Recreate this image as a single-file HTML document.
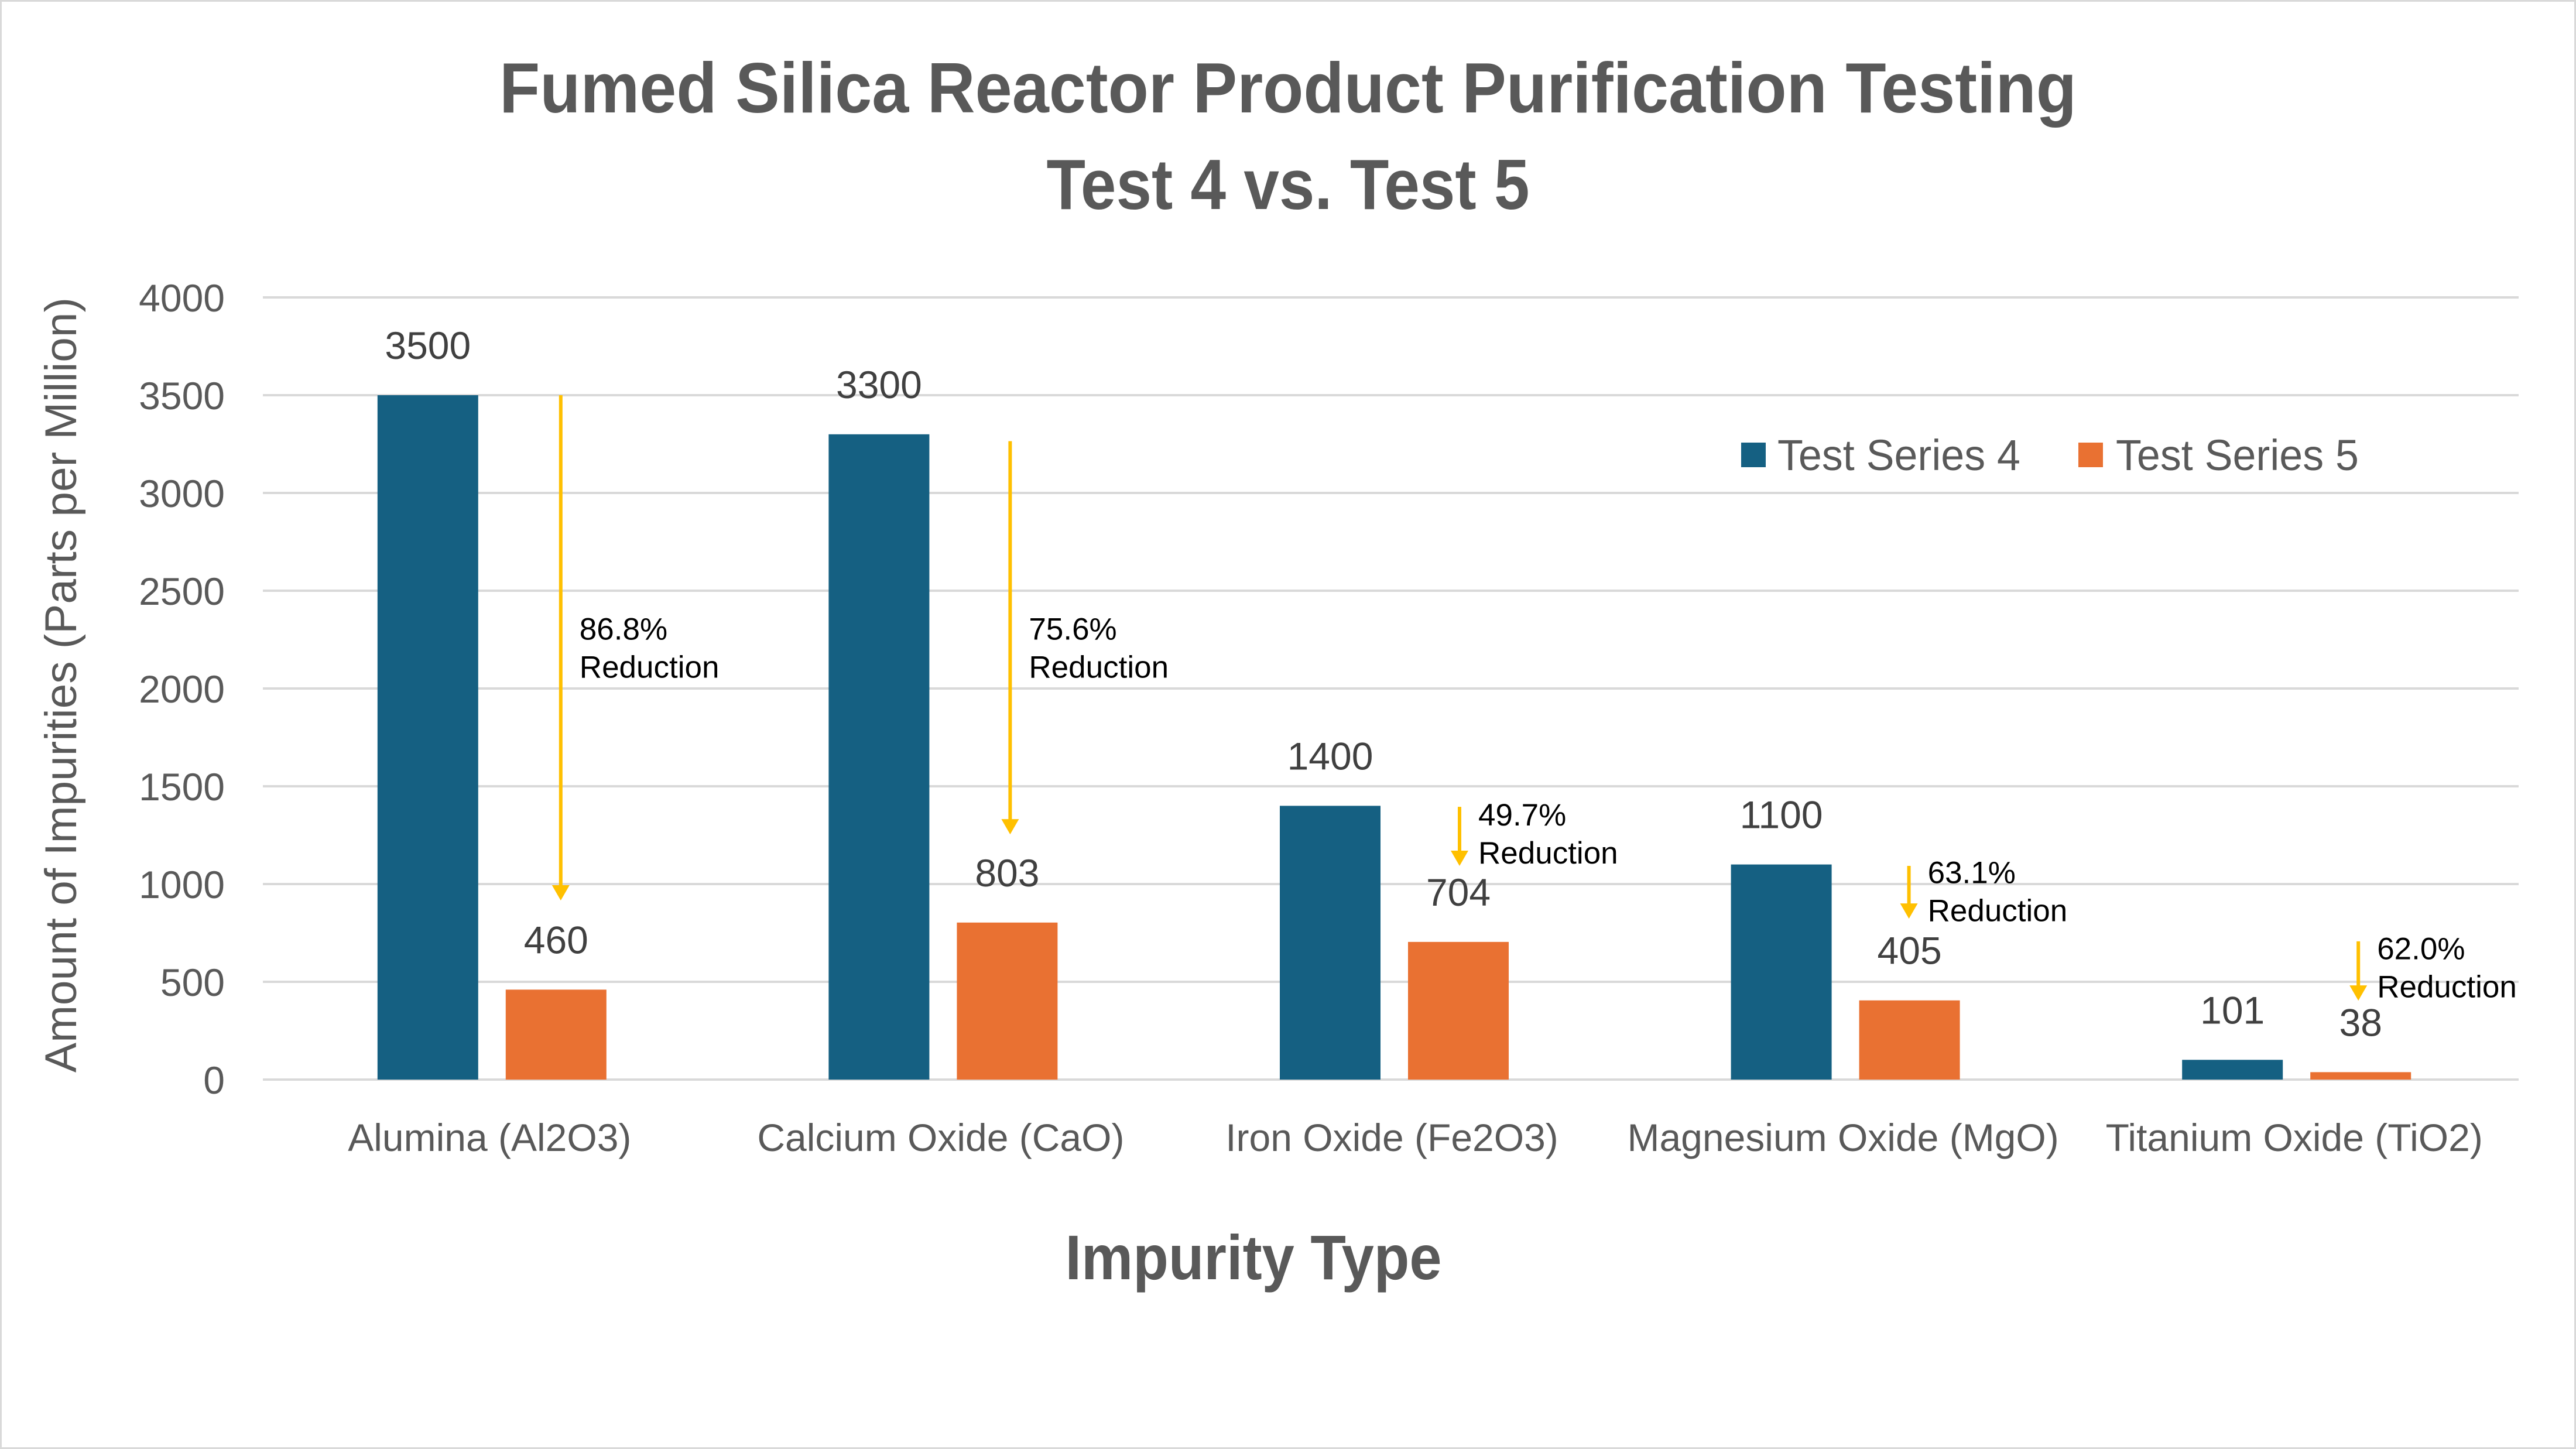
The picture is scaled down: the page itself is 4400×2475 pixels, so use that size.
<!DOCTYPE html>
<html><head><meta charset="utf-8"><style>
html,body{margin:0;padding:0;background:#fff;}
svg{display:block;}
</style></head><body>
<svg id="chart" width="4400" height="2475" viewBox="0 0 4400 2475" xmlns="http://www.w3.org/2000/svg" font-family="'Liberation Sans', sans-serif">
<rect x="1.5" y="1.5" width="4397" height="2472" fill="#fff" stroke="#d9d9d9" stroke-width="3"/>
<text x="2200" y="192" text-anchor="middle" font-size="122" font-weight="bold" fill="#595959" textLength="2694" lengthAdjust="spacingAndGlyphs">Fumed Silica Reactor Product Purification Testing</text>
<text x="2200" y="357" text-anchor="middle" font-size="122" font-weight="bold" fill="#595959" textLength="825" lengthAdjust="spacingAndGlyphs">Test 4 vs. Test 5</text>
<text transform="translate(130,1170) rotate(-90)" text-anchor="middle" font-size="76" fill="#595959" textLength="1324" lengthAdjust="spacingAndGlyphs">Amount of Impurities (Parts per Million)</text>
<text x="2141" y="2185" text-anchor="middle" font-size="108" font-weight="bold" fill="#595959" textLength="643" lengthAdjust="spacingAndGlyphs">Impurity Type</text>
<g>
<rect x="2974" y="756" width="42" height="42" fill="#156082"/>
<text x="3036" y="803" font-size="74" fill="#595959" textLength="415" lengthAdjust="spacingAndGlyphs">Test Series 4</text>
<rect x="3550" y="756" width="42" height="42" fill="#E97132"/>
<text x="3614" y="803" font-size="74" fill="#595959" textLength="415" lengthAdjust="spacingAndGlyphs">Test Series 5</text>
</g>
<g id="grid"></g><g id="bars"></g><g id="annot"></g>
</svg>
<script>
const categories = ["Alumina (Al2O3)","Calcium Oxide (CaO)","Iron Oxide (Fe2O3)","Magnesium Oxide (MgO)","Titanium Oxide (TiO2)"];
const series4 = [3500,3300,1400,1100,101];
const series5 = [460,803,704,405,38];
const yTicks = [0,500,1000,1500,2000,2500,3000,3500,4000];
const reductionLabels = ["86.8%","75.6%","49.7%","63.1%","62.0%"];
const arrowStart = [3500,3265,1395,1093,707];
const arrowEnd = [916,1254,1093,823,404];
const textValue = [2250,2250,1300,1005,615];

const NS="http://www.w3.org/2000/svg";
const X0=449,X1=4302,Y0=1844,Y1=508,YMAX=4000;
const y=v=>Y0-(v/YMAX)*(Y0-Y1);
const band=(X1-X0)/categories.length;
const cx=i=>X0+6+band*(i+0.5);
const BW=172,GAP=47;
function el(t,a,p){const e=document.createElementNS(NS,t);for(const k in a)e.setAttribute(k,a[k]);p.appendChild(e);return e;}
const grid=document.getElementById('grid'),bars=document.getElementById('bars'),ann=document.getElementById('annot');
yTicks.forEach(t=>{
  const l=el('line',{x1:X0,x2:X1,y1:y(t),y2:y(t),stroke:'#d9d9d9','stroke-width':4},grid);
  
  
  const tx=el('text',{x:384,y:y(t)+24,'text-anchor':'end','font-size':66,fill:'#595959'},grid);
  tx.textContent=t;
  
  
});
categories.forEach((c,i)=>{
  const bx=cx(i)-GAP/2-BW, ox=cx(i)+GAP/2;
  const b=el('rect',{x:bx,y:y(series4[i]),width:BW,height:Y0-y(series4[i]),fill:'#156082'},bars);
  
  
  const o=el('rect',{x:ox,y:y(series5[i]),width:BW,height:Y0-y(series5[i]),fill:'#E97132'},bars);
  
  
  const l4=el('text',{x:bx+BW/2,y:y(series4[i])-62,'text-anchor':'middle','font-size':66,fill:'#404040'},bars);
  l4.textContent=series4[i];
  
  
  const l5=el('text',{x:ox+BW/2,y:y(series5[i])-62,'text-anchor':'middle','font-size':66,fill:'#404040'},bars);
  l5.textContent=series5[i];
  
  
  const xl=el('text',{x:cx(i)-4,y:1966,'text-anchor':'middle','font-size':66,fill:'#595959'},bars);
  xl.textContent=c;
  
  
  const ax=ox+BW/2+8-i*3, ys=y(arrowStart[i]), ye=y(arrowEnd[i]);
  const ln=el('line',{x1:ax,x2:ax,y1:ys,y2:ye-20,stroke:'#FFC000','stroke-width':6},ann);
  
  
  const hd=el('polygon',{points:`${ax-15},${ye-26} ${ax+15},${ye-26} ${ax},${ye}`,fill:'#FFC000'},ann);
  
  
  const ty=y(textValue[i]);
  const t1=el('text',{x:ax+32,y:ty,'font-size':53,fill:'#000'},ann);
  t1.textContent=reductionLabels[i];
  
  
  const t2=el('text',{x:ax+32,y:ty+65,'font-size':53,fill:'#000'},ann);
  t2.textContent='Reduction';
  
  
});
</script>
</body></html>
